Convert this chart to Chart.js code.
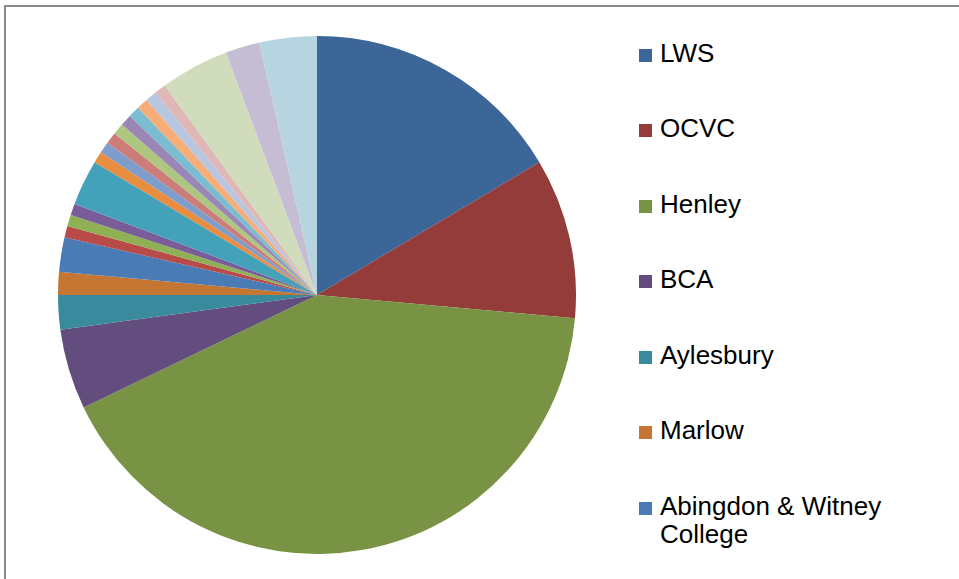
<!DOCTYPE html>
<html>
<head>
<meta charset="utf-8">
<script src="https://cdn.jsdelivr.net/npm/chart.js@4"></script>
<style>
  body { margin: 0; background: #fff; width: 959px; height: 579px; overflow: hidden; position: relative; }
  #frame { position: absolute; left: 4px; top: 5px; width: 1000px; height: 600px;
           border-top: 2px solid #8a8a8a; border-left: 2px solid #8a8a8a; }
  #pieBox { position: absolute; left: 58px; top: 36px; width: 518px; height: 518px; }
  #legend { position: absolute; left: 639px; top: 0; width: 320px; height: 579px; overflow: hidden;
            font-family: "Liberation Sans", Arial, sans-serif; font-size: 26px; line-height: 28px; color: #000; }
  .item { position: absolute; left: 21px; width: 250px; }
  .swatch { position: absolute; left: -21px; top: 10px; width: 13px; height: 13px; }
</style>
</head>
<body>
<div id="frame"></div>
<div id="pieBox"><canvas id="pieChart" width="518" height="518"></canvas></div>
<div id="legend"></div>
<script>
const ctx = document.getElementById('pieChart');

// only the first seven names are visible in the legend
var labels = ['LWS', 'OCVC', 'Henley', 'BCA', 'Aylesbury', 'Marlow', 'Abingdon & Witney College'];
var values = [23, 14, 58, 7, 3, 2, 3, 1, 1, 1, 4, 1, 1, 1, 1, 1, 1, 1, 1, 1, 6, 3, 5];
var colors = [
    '#3c6598', '#943c3a', '#789343', '#634c7e', '#3a8a9d', '#c57632',
    '#4b7bb5', '#b84b48', '#90b055', '#785d99', '#44a1ba', '#e98e40',
    '#7f9dcb', '#cc7c79', '#adc781', '#9a87b6', '#7cbcd0', '#f7ad78',
    '#b8c6e0', '#dfb7b6', '#d0dcbc', '#c5bdd3', '#b7d5e0'
];

new Chart(ctx, {
    type: 'pie',
    data: {
        labels: labels,
        datasets: [{
            data: values,
            backgroundColor: colors,
            borderWidth: 0
        }]
    },
    options: {
        responsive: false,
        animation: false,
        layout: { padding: 0 },
        plugins: {
            legend: { display: false },
            tooltip: { enabled: false }
        }
    }
});

// legend drawn as html, clipped like the original
var legend = document.getElementById('legend');
for (var i = 0; i < labels.length; i++) {
    var item = document.createElement('div');
    item.className = 'item';
    item.style.top = (38.5 + 75.5 * i) + 'px';
    var sw = document.createElement('span');
    sw.className = 'swatch';
    sw.style.background = colors[i];
    item.appendChild(sw);
    item.appendChild(document.createTextNode(labels[i]));
    legend.appendChild(item);
}
</script>
</body>
</html>
